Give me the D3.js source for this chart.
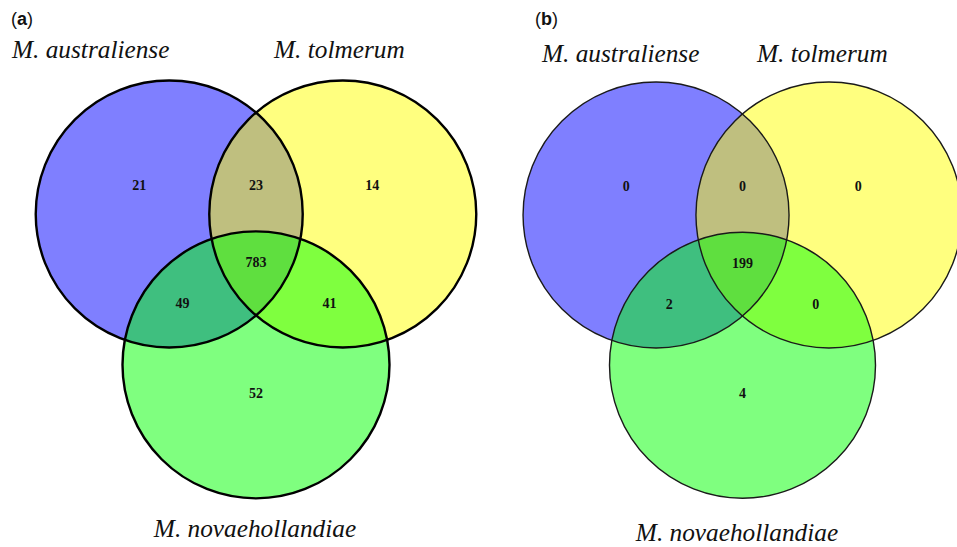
<!DOCTYPE html>
<html>
<head>
<meta charset="utf-8">
<script src="https://cdn.jsdelivr.net/npm/d3@7"></script>
<style>
  body { margin: 0; background: #fff; }
  svg { display: block; }
</style>
</head>
<body>
<div id="graph"></div>
<script>
var setNames = ['M. australiense', 'M. tolmerum', 'M. novaehollandiae']
var setColors = ['#0000ff', '#ffff00', '#00ff00']
// regions: A only, A&B, B only, A&B&C, A&C, B&C, C only
var regions = ['A', 'AB', 'B', 'ABC', 'AC', 'BC', 'C']
var countsA = [21, 23, 14, 783, 49, 41, 52]
var countsB = [0, 0, 0, 199, 2, 0, 4]
var panelTags = ['a', 'b']

// venn layout in circle-radius units
var circleLayout = [[-0.65, 0], [0.65, 0], [0, 1.13]]
var regionLayout = {
  A: [-0.875, -0.22], AB: [0, -0.22], B: [0.87, -0.22],
  ABC: [0, 0.36], AC: [-0.55, 0.67], BC: [0.55, 0.67], C: [0, 1.34]
}

var width = 957, height = 547

var svg = d3.select('#graph').append('svg')
    .attr('width', width)
    .attr('height', height)

var panels = [
  {tag: panelTags[0], counts: countsA, cx: 256, cy: 214, r: 133.5, stroke: '#000', sw: 2.4, tagX: 11,
   labels: [[12, 58, 'start'], [274, 58, 'start'], [255, 537, 'middle']]},
  {tag: panelTags[1], counts: countsB, cx: 742.5, cy: 215, r: 133, stroke: '#1a1a1a', sw: 1.4, tagX: 535,
   labels: [[542, 62, 'start'], [757, 62, 'start'], [737, 541, 'middle']]}
]

panels.forEach(function(p){
  var x = d3.scaleLinear().domain([0, 1]).range([p.cx, p.cx + p.r])
  var y = d3.scaleLinear().domain([0, 1]).range([p.cy, p.cy + p.r])
  var g = svg.append('g')

  g.selectAll('circle.fill').data(circleLayout).enter().append('circle')
      .attr('class', 'fill')
      .attr('cx', function(d){ return x(d[0]) })
      .attr('cy', function(d){ return y(d[1]) })
      .attr('r', x(1) - x(0))
      .style('fill', function(d, i){ return setColors[i] })
      .style('fill-opacity', 0.5)

  g.selectAll('circle.edge').data(circleLayout).enter().append('circle')
      .attr('class', 'edge')
      .attr('cx', function(d){ return x(d[0]) })
      .attr('cy', function(d){ return y(d[1]) })
      .attr('r', x(1) - x(0))
      .style('fill', 'none')
      .style('stroke', p.stroke)
      .style('stroke-width', p.sw)

  g.selectAll('text.count').data(regions).enter().append('text')
      .attr('class', 'count')
      .attr('x', function(d){ return x(regionLayout[d][0]) })
      .attr('y', function(d){ return y(regionLayout[d][1]) })
      .attr('dy', '0.35em')
      .attr('text-anchor', 'middle')
      .style('font', 'bold 14px "Liberation Serif", serif')
      .style('fill', '#111')
      .text(function(d, i){ return p.counts[i] })

  g.selectAll('text.name').data(setNames).enter().append('text')
      .attr('class', 'name')
      .attr('x', function(d, i){ return p.labels[i][0] })
      .attr('y', function(d, i){ return p.labels[i][1] })
      .attr('text-anchor', function(d, i){ return p.labels[i][2] })
      .style('font', 'italic 25.3px "Liberation Serif", serif')
      .style('fill', '#111')
      .text(function(d){ return d })

  var tag = g.append('text')
      .attr('x', p.tagX)
      .attr('y', 25)
      .style('font', '18px "Liberation Sans", sans-serif')
      .style('fill', '#111')
  tag.append('tspan').text('(')
  tag.append('tspan').style('font-weight', 'bold').text(p.tag)
  tag.append('tspan').text(')')
})
</script>
</body>
</html>
